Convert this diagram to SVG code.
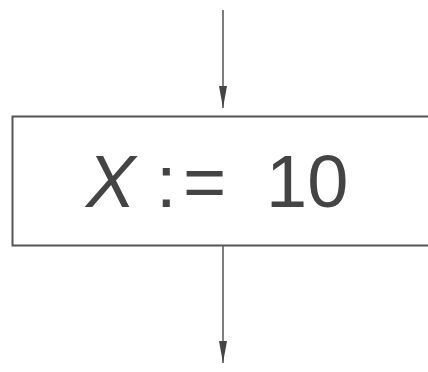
<svg xmlns="http://www.w3.org/2000/svg" width="428" height="372" viewBox="0 0 428 372">
<style>
.ln{stroke:#555;stroke-width:1.5;fill:none}
.bx{stroke:#555;stroke-width:2;fill:#fff}
.t{font-family:"Liberation Sans",Arial,sans-serif;font-size:74px;fill:#444}
</style>
<defs>
<marker id="ah" markerWidth="22" markerHeight="10" refX="22" refY="5" orient="auto" markerUnits="userSpaceOnUse" viewBox="0 0 22 10">
<path d="M22 5 L0 1 L0 9 Z" fill="#444"/>
</marker>
</defs>
<rect width="428" height="372" fill="#fff"/>
<g id="connectors">
<line class="ln" x1="223" y1="10" x2="223" y2="108" marker-end="url(#ah)"/>
<line class="ln" x1="223" y1="246" x2="223" y2="363" marker-end="url(#ah)"/>
</g>
<g id="node-assign">
<rect class="bx" x="12.5" y="116.5" width="440" height="129"/>
<text class="t" y="207"><tspan x="86" font-style="italic">X</tspan><tspan x="156">:</tspan><tspan x="183">=</tspan><tspan x="266">10</tspan></text>
</g>
</svg>
